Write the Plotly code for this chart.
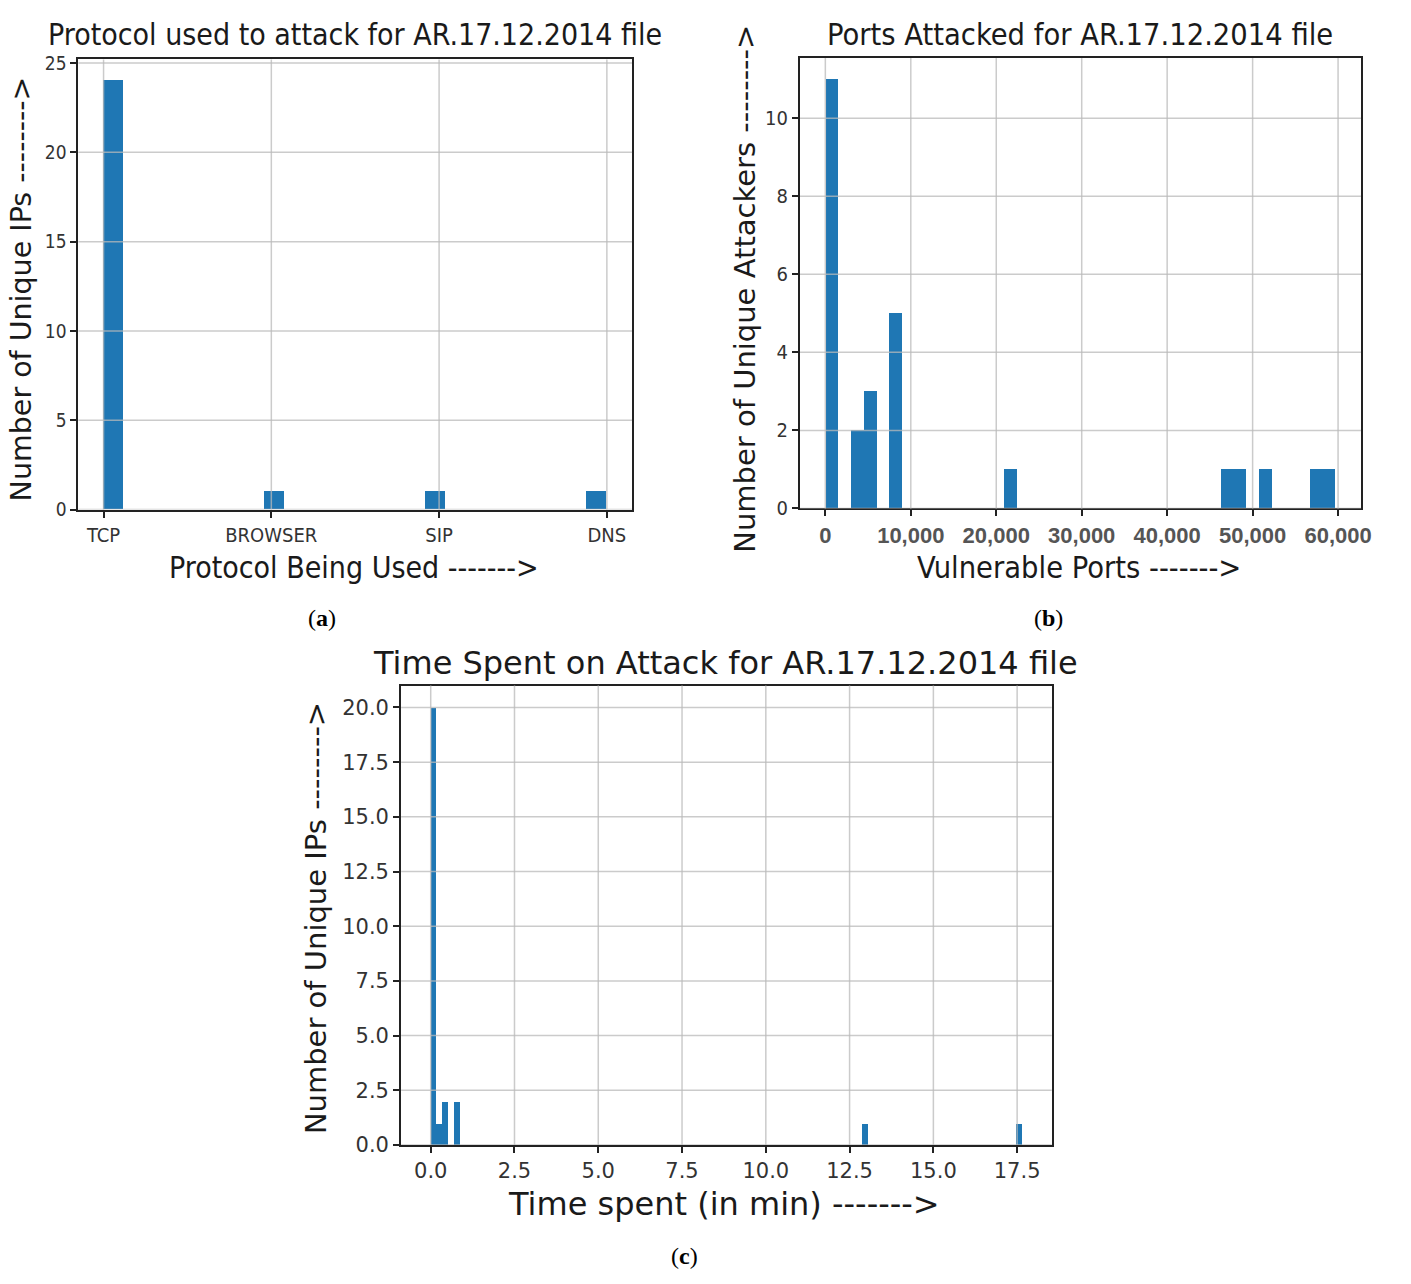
import numpy as np
import plotly.graph_objects as go

# ---------------- data ----------------
protocols = ["TCP", "BROWSER", "SIP", "DNS"]
protocol_counts = [24, 1, 1, 1]
protocol_nbins = 25
protocol_yticks = [0, 5, 10, 15, 20, 25]

port_min, port_max = 21, 59700
port_bin_counts = [11, 0, 2, 3, 0, 5, 0, 0, 0, 0,
                   0, 0, 0, 0, 1, 0, 0, 0, 0, 0,
                   0, 0, 0, 0, 0, 0, 0, 0, 0, 0,
                   0, 1, 1, 0, 1, 0, 0, 0, 1, 1]
port_ticks = [0, 10000, 20000, 30000, 40000, 50000, 60000]
port_yticks = [0, 2, 4, 6, 8, 10]

time_min, time_max = 0.0, 17.65
time_nbins = 100
time_bin_index = [0, 1, 2, 4, 73, 99]
time_bin_counts = [20, 1, 2, 2, 1, 1]
time_ticks = [0.0, 2.5, 5.0, 7.5, 10.0, 12.5, 15.0, 17.5]
time_yticks = [0, 2.5, 5, 7.5, 10, 12.5, 15, 17.5, 20]

W, H = 1411, 1284
BLUE = "#1f77b4"
GRID = "rgba(185,185,185,0.75)"
SPINE = "#222222"
NARROW = "DejaVu Sans Condensed, Liberation Sans Narrow, DejaVu Sans"
DEJAVU = "DejaVu Sans"


def px(x):
    return x / W


def py(y):
    return 1 - y / H


def mpl_range(lo, hi):
    m = 0.05 * (hi - lo)
    return [lo - m, hi + m]


fig = go.Figure()

# ---- (a) protocol histogram (categories coded 0..3, 25 bins) ----
codes = np.repeat(np.arange(len(protocols)), protocol_counts)
a_counts, a_edges = np.histogram(codes, bins=protocol_nbins,
                                 range=(0, len(protocols) - 1))
fig.add_trace(go.Bar(x=a_edges[:-1], y=a_counts, width=np.diff(a_edges),
                     offset=0, marker=dict(color=BLUE, line=dict(width=0)),
                     xaxis="x", yaxis="y", showlegend=False))

# ---- (b) ports histogram (40 bins) ----
b_edges = np.linspace(port_min, port_max, len(port_bin_counts) + 1)
fig.add_trace(go.Bar(x=b_edges[:-1], y=port_bin_counts, width=np.diff(b_edges),
                     offset=0, marker=dict(color=BLUE, line=dict(width=0)),
                     xaxis="x2", yaxis="y2", showlegend=False))

# ---- (c) time histogram (100 bins) ----
c_full = np.zeros(time_nbins, dtype=int)
c_full[time_bin_index] = time_bin_counts
c_edges = np.linspace(time_min, time_max, time_nbins + 1)
fig.add_trace(go.Bar(x=c_edges[:-1], y=c_full, width=np.diff(c_edges),
                     offset=0, marker=dict(color=BLUE, line=dict(width=0)),
                     xaxis="x3", yaxis="y3", showlegend=False))

axis_common = dict(showline=True, linecolor=SPINE, linewidth=2, mirror=True,
                   showgrid=False,
                   ticks="outside", ticklen=6, tickwidth=1.5, tickcolor=SPINE,
                   zeroline=False, layer="above traces")

fig.update_layout(
    width=W, height=H, margin=dict(l=0, r=0, t=0, b=0),
    paper_bgcolor="white", plot_bgcolor="white", bargap=0,
    xaxis=dict(axis_common, domain=[px(79), px(637)], anchor="y",
               range=mpl_range(0, len(protocols) - 1),
               tickvals=list(range(len(protocols))), ticktext=protocols,
               tickfont=dict(family=NARROW, size=20, color="#333333")),
    yaxis=dict(axis_common, domain=[py(509.5), py(52.3)], anchor="x",
               range=[0, max(a_counts) * 1.05], tickvals=protocol_yticks,
               tickfont=dict(family=NARROW, size=19, color="#333333")),
    xaxis2=dict(axis_common, domain=[px(806.3), px(1371.7)], anchor="y2",
                range=mpl_range(port_min, port_max), tickvals=port_ticks,
                tickformat=",d",
                tickfont=dict(family="Liberation Sans", size=22, color="#555555",
                              weight="bold")),
    yaxis2=dict(axis_common, domain=[py(508.3), py(50.7)], anchor="x2",
                range=[0, max(port_bin_counts) * 1.05], tickvals=port_yticks,
                tickfont=dict(family=NARROW, size=20, color="#333333")),
    xaxis3=dict(axis_common, domain=[px(404.3), px(1060)], anchor="y3",
                range=mpl_range(time_min, time_max), tickvals=time_ticks,
                tickformat=".1f",
                tickfont=dict(family=DEJAVU, size=21, color="#333333")),
    yaxis3=dict(axis_common, domain=[py(1155), py(688.3)], anchor="x3",
                range=[0, max(time_bin_counts) * 1.05],
                tickvals=time_yticks, tickformat=".1f",
                tickfont=dict(family=DEJAVU, size=21, color="#333333")),
)

# grid lines drawn above the bars (as in the reference), at the tick values
grid_sets = [("x", "y", list(range(len(protocols))), protocol_yticks),
             ("x2", "y2", port_ticks, port_yticks),
             ("x3", "y3", time_ticks, time_yticks)]
for xa, ya, xt, yt in grid_sets:
    for v in xt:
        fig.add_shape(type="line", xref=xa, yref=f"{ya} domain", x0=v, x1=v,
                      y0=0, y1=1, layer="above", line=dict(color=GRID, width=1.5))
    for v in yt:
        fig.add_shape(type="line", xref=f"{xa} domain", yref=ya, x0=0, x1=1,
                      y0=v, y1=v, layer="above", line=dict(color=GRID, width=1.5))


def label(text, x, y, size, family, angle=0, color="#1a1a1a"):
    fig.add_annotation(text=text, x=px(x), y=py(y), xref="paper", yref="paper",
                       xanchor="center", yanchor="middle", showarrow=False,
                       textangle=angle, font=dict(family=family, size=size, color=color))


# titles
label("Protocol used to attack for AR.17.12.2014 file", 358, 27, 30, NARROW)
label("Ports Attacked for AR.17.12.2014 file", 1088, 27, 30.5, NARROW)
label("Time Spent on Attack for AR.17.12.2014 file", 731, 665, 32, DEJAVU)
# axis labels
label("Number of Unique IPs -------->", 22, 285, 28.5, DEJAVU, angle=-90)
label("Protocol Being Used ------->", 357, 568, 30, NARROW)
label("Number of Unique Attackers -------->", 750, 285, 29, DEJAVU, angle=-90)
label("Vulnerable Ports ------->", 1087, 568, 30.5, NARROW)
label("Number of Unique IPs -------->", 318, 925, 29, DEJAVU, angle=-90)
label("Time spent (in min) ------->", 730, 1215, 32, DEJAVU)
# captions
SERIF = "Liberation Serif, DejaVu Serif"
label("(<b>a</b>)", 325, 620, 24, SERIF, color="black")
label("(<b>b</b>)", 1057, 620, 24, SERIF, color="black")
label("(<b>c</b>)", 690, 1268, 24, SERIF, color="black")

fig.write_html(
    "out.html",
    config={"displayModeBar": False},
    post_script="document.body.style.margin='0';document.body.style.overflow='hidden';",
)
